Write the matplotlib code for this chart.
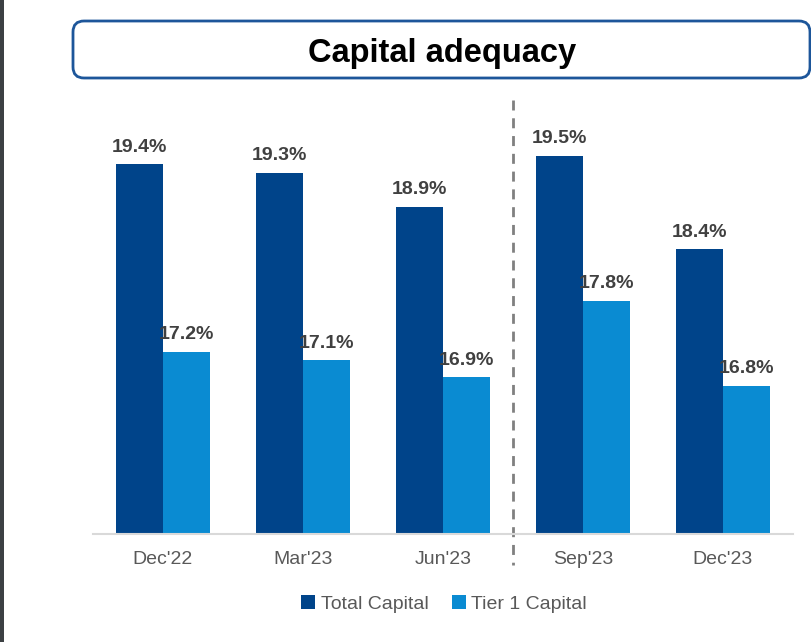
import matplotlib.pyplot as plt
import numpy as np
from matplotlib.patches import FancyBboxPatch, Rectangle
from matplotlib.transforms import blended_transform_factory, IdentityTransform

plt.rcParams['font.family'] = ['Liberation Sans', 'DejaVu Sans']

periods = ["Dec'22", "Mar'23", "Jun'23", "Sep'23", "Dec'23"]
total_capital = [19.4, 19.3, 18.9, 19.5, 18.4]
tier1_capital = [17.2, 17.1, 16.9, 17.8, 16.8]

dark = '#00448a'
light = '#0a8bd2'

W, H = 812, 642
fig = plt.figure(figsize=(W / 100, H / 100), dpi=100)

# dark strip at the left edge
fig.patches.append(Rectangle((0, 0), 4 / W, 1, transform=fig.transFigure,
                             facecolor='#3c4043', edgecolor='none'))

# title box (pixel coordinates, origin bottom-left)
box = FancyBboxPatch((73, H - 78), 737, 57,
                     boxstyle='round,pad=0,rounding_size=11',
                     transform=IdentityTransform(), facecolor='white',
                     edgecolor='#1d569a', linewidth=2)
fig.patches.append(box)
fig.text(442 / W, 1 - 62 / H, 'Capital adequacy', ha='center', va='baseline',
         fontsize=23.5, fontweight='bold', color='black')

ax = fig.add_axes([93 / W, 108 / H, 700 / W, 426 / H])
x = np.arange(len(periods))
w = 1 / 3
b1 = ax.bar(x - w / 2, total_capital, w, color=dark, label='Total Capital')
b2 = ax.bar(x + w / 2, tier1_capital, w, color=light, label='Tier 1 Capital')
ax.set_ylim(15.06, 20.06)
ax.set_xlim(-0.5, len(periods) - 0.5)

for bars, vals in [(b1, total_capital), (b2, tier1_capital)]:
    for r, v in zip(bars, vals):
        ax.annotate(f'{v:.1f}%', (r.get_x() + r.get_width() / 2, v),
                    xytext=(0, 6), textcoords='offset points', ha='center',
                    va='bottom', fontsize=14, fontweight='bold', color='#404040')

ax.set_xticks(x)
ax.set_xticklabels(periods, fontsize=14, color='#595959')
ax.tick_params(axis='x', length=0, pad=12)
ax.set_yticks([])
for s in ['left', 'right', 'top']:
    ax.spines[s].set_visible(False)
ax.spines['bottom'].set_color('#d9d9d9')
ax.spines['bottom'].set_linewidth(1.5)

# dashed separator between Jun'23 and Sep'23
tr = blended_transform_factory(ax.transData, ax.transAxes)
ax.plot([2.5, 2.5], [1.0188, -0.073], transform=tr, clip_on=False,
        color='#808080', lw=2, linestyle=(0, (3.6, 2.8)))

fig.legend(handles=[b1, b2], loc='center', bbox_to_anchor=(0.547, 1 - 604 / H),
           ncol=2, frameon=False, fontsize=14, handlelength=0.7,
           handleheight=0.7, handletextpad=0.3, columnspacing=1.2,
           labelcolor='#595959')

fig.savefig('out.png', dpi=100)
